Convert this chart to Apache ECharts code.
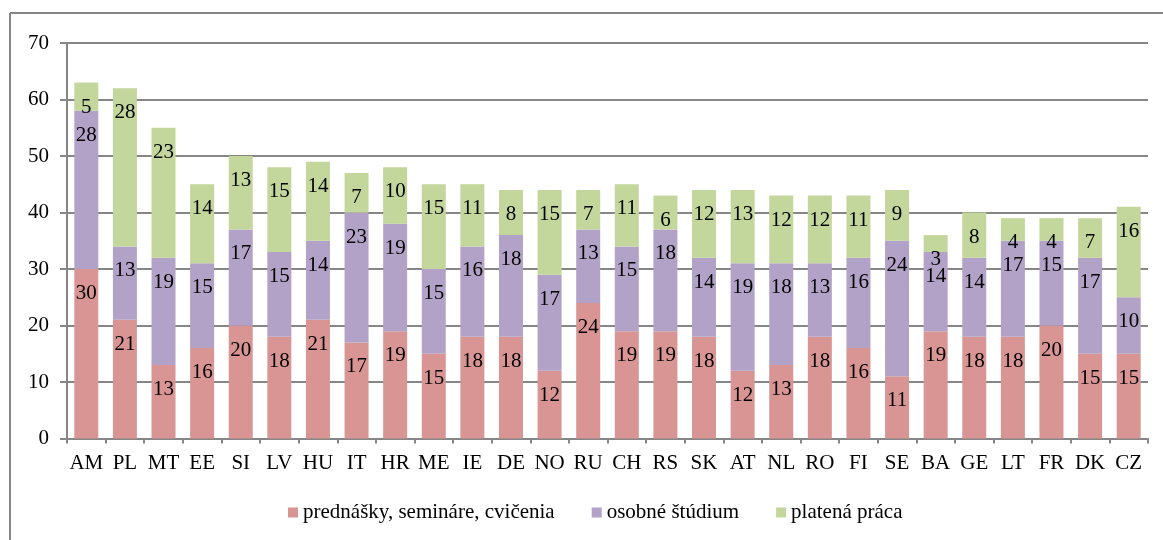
<!DOCTYPE html>
<html>
<head>
<meta charset="utf-8">
<script src="https://cdn.jsdelivr.net/npm/echarts@6/dist/echarts.min.js"></script>
<style>html,body{margin:0;padding:0;background:#fff}#c{width:1163px;height:540px}</style>
</head>
<body>
<div id="c"></div>
<script>
const categories = ['AM','PL','MT','EE','SI','LV','HU','IT','HR','ME','IE','DE','NO','RU','CH','RS','SK','AT','NL','RO','FI','SE','BA','GE','LT','FR','DK','CZ'];
const lectures = [30,21,13,16,20,18,21,17,19,15,18,18,12,24,19,19,18,12,13,18,16,11,19,18,18,20,15,15];
const selfStudy = [28,13,19,15,17,15,14,23,19,15,16,18,17,13,15,18,14,19,18,13,16,24,14,14,17,15,17,10];
const paidWork = [5,28,23,14,13,15,14,7,10,15,11,8,15,7,11,6,12,13,12,12,11,9,3,8,4,4,7,16];
const seriesNames = ['prednášky, semináre, cvičenia','osobné štúdium','platená práca'];
const yTicks = [0,10,20,30,40,50,60,70];

const font = '"Liberation Serif","Times New Roman",serif';
const colors = ['#D99594','#B3A2C7','#C3D69B'];
const chart = echarts.init(document.getElementById('c'));
const mk = (name, data, color) => ({
  name, type: 'bar', stack: 'total', data, barWidth: 24,
  itemStyle: { color },
  label: { show: true, position: 'insideTop', distance: 14, color: '#000', fontFamily: font, fontSize: 21, lineHeight: 21 }
});
chart.setOption({
  animation: false,
  textStyle: { fontFamily: font },
  grid: { left: 67, right: 15, top: 43, bottom: 101.5, containLabel: false },
  xAxis: {
    type: 'category', data: categories,
    axisLine: { lineStyle: { color: '#868686', width: 2 } },
    axisTick: { show: true, length: 5, lineStyle: { color: '#868686', width: 2 } },
    axisLabel: { color: '#000', fontFamily: font, fontSize: 21, margin: 14, interval: 0 }
  },
  yAxis: {
    type: 'value', min: yTicks[0], max: yTicks[yTicks.length-1], interval: 10,
    axisLine: { show: true, lineStyle: { color: '#868686', width: 2 } },
    axisTick: { show: true, length: 7, lineStyle: { color: '#868686', width: 2 } },
    splitLine: { lineStyle: { color: '#868686', width: 2 } },
    axisLabel: { color: '#000', fontFamily: font, fontSize: 21, margin: 18 }
  },
  legend: {
    left: 288, top: 502, padding: 0, itemWidth: 10, itemHeight: 10, itemGap: 37,
    icon: 'rect',
    textStyle: { color: '#000', fontFamily: font, fontSize: 21, lineHeight: 21, padding: [0,0,0,0] },
    data: seriesNames
  },
  graphic: [
    { type: 'line', shape: { x1: 10, y1: 13, x2: 1163, y2: 13 }, style: { stroke: '#868686', lineWidth: 2 } },
    { type: 'line', shape: { x1: 10, y1: 13, x2: 10, y2: 540 }, style: { stroke: '#868686', lineWidth: 2 } }
  ],
  series: [
    mk(seriesNames[0], lectures, colors[0]),
    mk(seriesNames[1], selfStudy, colors[1]),
    mk(seriesNames[2], paidWork, colors[2])
  ]
});
</script>
</body>
</html>
